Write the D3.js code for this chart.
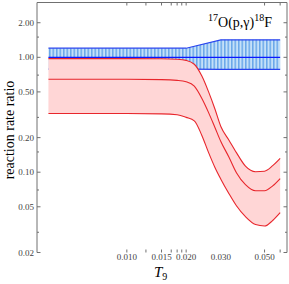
<!DOCTYPE html>
<html>
<head>
<meta charset="utf-8">
<script src="https://cdn.jsdelivr.net/npm/d3@7"></script>
<style>
  body { margin: 0; background: #fff; }
  svg { display: block; }
  text { font-family: "Liberation Serif", "DejaVu Serif", serif; }
</style>
</head>
<body>
<div id="vis"></div>
<script>
var width = 289, height = 284;

// temperature grid (T9) for the curves
var temps = [0.004, 0.01, 0.015, 0.018, 0.02, 0.022, 0.024, 0.026, 0.028, 0.03,
             0.033, 0.036, 0.04, 0.045, 0.05, 0.055, 0.06];

// red band: upper, middle, lower ratio
var redUpper  = [0.975, 0.975, 0.972, 0.962, 0.94, 0.87, 0.69, 0.50, 0.355, 0.25,
                 0.19, 0.148, 0.113, 0.101, 0.102, 0.114, 0.132];
var redMiddle = [0.644, 0.644, 0.640, 0.630, 0.612, 0.56, 0.44, 0.33, 0.245, 0.185,
                 0.135, 0.099, 0.078, 0.069, 0.069, 0.076, 0.088];
var redLower  = [0.324, 0.324, 0.322, 0.316, 0.30, 0.28, 0.21, 0.148, 0.11, 0.087,
                 0.065, 0.051, 0.041, 0.035, 0.034, 0.038, 0.0444];

// blue band
var blueTemps  = [0.004, 0.02, 0.03, 0.06];
var blueUpper  = [1.2, 1.2, 1.42, 1.42];
var blueCenter = [1.0, 1.0, 1.0, 1.0];
var blueLower  = [0.79, 0.79, 0.785, 0.785];

// ticks
var xTickLabels = [0.01, 0.015, 0.02, 0.03, 0.05];
var xTickMarks  = [0.01, 0.0125, 0.015, 0.0168, 0.018, 0.019, 0.02, 0.05, 0.06];
var yTickLabels = [2, 1, 0.5, 0.2, 0.1, 0.05, 0.02];
var yTickMinor  = [1.5, 0.7, 0.3, 0.15, 0.07, 0.03];

// plot box (window.top is reserved, so use own names)
var pLeft = 37, pRight = 287, pTop = 2.5, pBottom = 252.5;

var x = d3.scaleLog().domain([0.0035, 0.065]).range([pLeft, pRight]);
var y = d3.scaleLog().domain([0.02, 3.0]).range([pBottom, pTop]);

var svg = d3.select('#vis').append('svg')
  .attr('width', width)
  .attr('height', height);

var defs = svg.append('defs');
var pat = defs.append('pattern')
  .attr('id', 'hatch')
  .attr('patternUnits', 'userSpaceOnUse')
  .attr('width', 3.5)
  .attr('height', 10);
pat.append('rect').attr('width', 3.5).attr('height', 10).attr('fill', '#c4e0f8');
pat.append('line')
  .attr('x1', 0.8).attr('x2', 0.8).attr('y1', 0).attr('y2', 10)
  .attr('stroke', '#3b8ae2').attr('stroke-width', 1);

function band(xs, lo, hi) {
  return d3.area()
    .x(function(d, i) { return x(xs[i]); })
    .y0(function(d, i) { return y(lo[i]); })
    .y1(function(d, i) { return y(hi[i]); })(xs);
}
function curve(xs, vs, smooth) {
  return d3.line()
    .x(function(d, i) { return x(xs[i]); })
    .y(function(d, i) { return y(vs[i]); })
    .curve(smooth ? d3.curveMonotoneX : d3.curveLinear)(xs);
}

// blue band (drawn first, red covers it)
svg.append('path')
  .attr('d', band(blueTemps, blueLower, blueUpper))
  .attr('fill', 'url(#hatch)');
[blueUpper, blueLower].forEach(function(v) {
  svg.append('path').attr('d', curve(blueTemps, v, false))
    .attr('fill', 'none').attr('stroke', '#2a44ee').attr('stroke-width', 1.2);
});
svg.append('path').attr('d', curve(blueTemps, blueCenter, false))
  .attr('fill', 'none').attr('stroke', '#0a18ff').attr('stroke-width', 1.2);

// red band
var redArea = d3.area()
  .x(function(d, i) { return x(temps[i]); })
  .y0(function(d, i) { return y(redLower[i]); })
  .y1(function(d, i) { return y(redUpper[i]); })
  .curve(d3.curveMonotoneX);
svg.append('path').attr('d', redArea(temps)).attr('fill', '#ffd6d6');
[redUpper, redMiddle, redLower].forEach(function(v) {
  svg.append('path').attr('d', curve(temps, v, true))
    .attr('fill', 'none').attr('stroke', '#e8262c').attr('stroke-width', 1.1);
});

// frame (no bottom line)
var frame = '#707070';
svg.append('path')
  .attr('d', 'M' + pLeft + ',' + pBottom + 'V' + pTop + 'H' + pRight + 'V' + pBottom)
  .attr('fill', 'none').attr('stroke', frame).attr('stroke-width', 1);

// y ticks
yTickLabels.forEach(function(v) {
  svg.append('line').attr('x1', pLeft).attr('x2', pLeft + 3.5).attr('y1', y(v)).attr('y2', y(v))
    .attr('stroke', frame);
  svg.append('line').attr('x1', pRight).attr('x2', pRight - 3.5).attr('y1', y(v)).attr('y2', y(v))
    .attr('stroke', frame);
  svg.append('text').attr('x', pLeft - 3).attr('y', y(v)).attr('dy', '0.35em')
    .attr('text-anchor', 'end').attr('font-size', 9).attr('fill', '#444')
    .text(d3.format('.2f')(v));
});
yTickMinor.forEach(function(v) {
  svg.append('line').attr('x1', pLeft).attr('x2', pLeft + 2).attr('y1', y(v)).attr('y2', y(v))
    .attr('stroke', frame);
  svg.append('line').attr('x1', pRight).attr('x2', pRight - 2).attr('y1', y(v)).attr('y2', y(v))
    .attr('stroke', frame);
});

// x ticks
xTickMarks.forEach(function(v) {
  svg.append('line').attr('x1', x(v)).attr('x2', x(v)).attr('y1', pBottom).attr('y2', pBottom - 3)
    .attr('stroke', frame);
  svg.append('line').attr('x1', x(v)).attr('x2', x(v)).attr('y1', pTop).attr('y2', pTop + 3)
    .attr('stroke', frame);
});
xTickLabels.forEach(function(v) {
  svg.append('text').attr('x', x(v)).attr('y', 260)
    .attr('text-anchor', 'middle').attr('font-size', 9).attr('fill', '#444')
    .text(d3.format('.3f')(v));
});

// axis titles
svg.append('text')
  .attr('transform', 'translate(14,130) rotate(-90)')
  .attr('text-anchor', 'middle').attr('font-size', 14)
  .text('reaction rate ratio');

var t9 = svg.append('text').attr('x', 154).attr('y', 277).attr('font-size', 15);
t9.append('tspan').attr('font-style', 'italic').text('T');
t9.append('tspan').attr('font-size', 10).attr('dy', 3).text('9');

// reaction label
var lab = svg.append('text').attr('x', 272).attr('y', 27)
  .attr('text-anchor', 'end').attr('font-size', 14);
lab.append('tspan').attr('font-size', 10).attr('dy', -6).text('17');
lab.append('tspan').attr('dy', 6).text('O(p,\u03b3)');
lab.append('tspan').attr('font-size', 10).attr('dy', -6).text('18');
lab.append('tspan').attr('dy', 6).text('F');
</script>
</body>
</html>
